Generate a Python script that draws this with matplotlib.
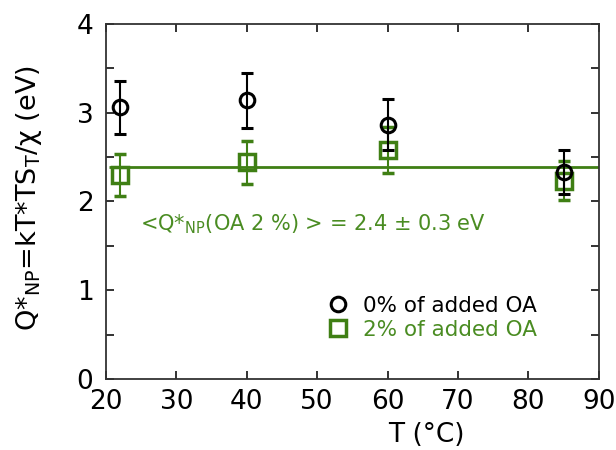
import matplotlib
matplotlib.use("Agg")
import matplotlib.pyplot as plt
from matplotlib.lines import Line2D
from matplotlib.ticker import MultipleLocator

# Temperatures (°C) and Q*_NP values (eV)
temp = [22, 40, 60, 85]
q_0pct = [3.06, 3.14, 2.865, 2.33]
err_0pct = [0.30, 0.31, 0.29, 0.245]
q_2pct = [2.30, 2.44, 2.58, 2.23]
err_2pct = [0.235, 0.245, 0.255, 0.22]
q_mean_2pct = 2.39

green = '#3f7f14'
text_green = '#4a8c22'

plt.rcParams['font.family'] = ['DejaVu Sans']

fig = plt.figure(figsize=(6.16, 4.5), dpi=100)
ax = fig.add_axes([0.172, 0.158, 0.800, 0.789])

# 2 % OA: squares plus the mean line
ax.hlines(q_mean_2pct, 20.4, 90, color=green, linewidth=2)
ax.errorbar(temp, q_2pct, yerr=err_2pct, fmt='s', markersize=12, markerfacecolor='none',
            markeredgecolor=green, markeredgewidth=2.5, ecolor=green, elinewidth=1.5,
            capsize=4, capthick=1.5, zorder=3)

# 0 % OA: circles
ax.errorbar(temp, q_0pct, yerr=err_0pct, fmt='o', markersize=10.5, markerfacecolor='none',
            markeredgecolor='black', markeredgewidth=2.2, ecolor='black', elinewidth=1.5,
            capsize=4, capthick=1.5, zorder=4)

ax.set_xlim(20, 90)
ax.set_ylim(0, 4)
ax.xaxis.set_major_locator(MultipleLocator(10))
ax.yaxis.set_major_locator(MultipleLocator(1))
ax.yaxis.set_minor_locator(MultipleLocator(0.5))
ax.tick_params(which='both', direction='in', top=True, right=True, length=6, width=1.3,
               color='#222222', labelsize=19)
ax.tick_params(axis='y', pad=9)
ax.tick_params(axis='x', pad=7)

for sp in ax.spines.values():
    sp.set_linewidth(1.3)
    sp.set_color('#333333')

ax.set_xlabel('T (°C)', fontsize=19)
ax.xaxis.set_label_coords(0.65, -0.12)
ax.set_ylabel(r'Q*$_{\mathregular{NP}}$=kT*TS$_{\mathregular{T}}$/χ (eV)', fontsize=19.5)
ax.yaxis.set_label_coords(-0.125, 0.51)

ax.text(24.8, 1.74, r'<Q*$_{\mathregular{NP}}$(OA 2 %) > = 2.4 ± 0.3 eV', color=text_green,
        fontsize=15, va='center', ha='left')

handles = [
    Line2D([], [], linestyle='none', marker='o', markersize=10.5, markerfacecolor='none',
           markeredgecolor='black', markeredgewidth=2.2),
    Line2D([], [], linestyle='none', marker='s', markersize=12, markerfacecolor='none',
           markeredgecolor=green, markeredgewidth=2.5),
]
labels = ['0% of added OA', '2% of added OA']
leg = ax.legend(handles, labels, loc='lower right', bbox_to_anchor=(0.915, 0.055),
                frameon=False, fontsize=15.5, handletextpad=0.6, labelspacing=0.2,
                handlelength=1.2)
for t, c in zip(leg.get_texts(), ['black', text_green]):
    t.set_color(c)

fig.savefig('out.png', dpi=100)
